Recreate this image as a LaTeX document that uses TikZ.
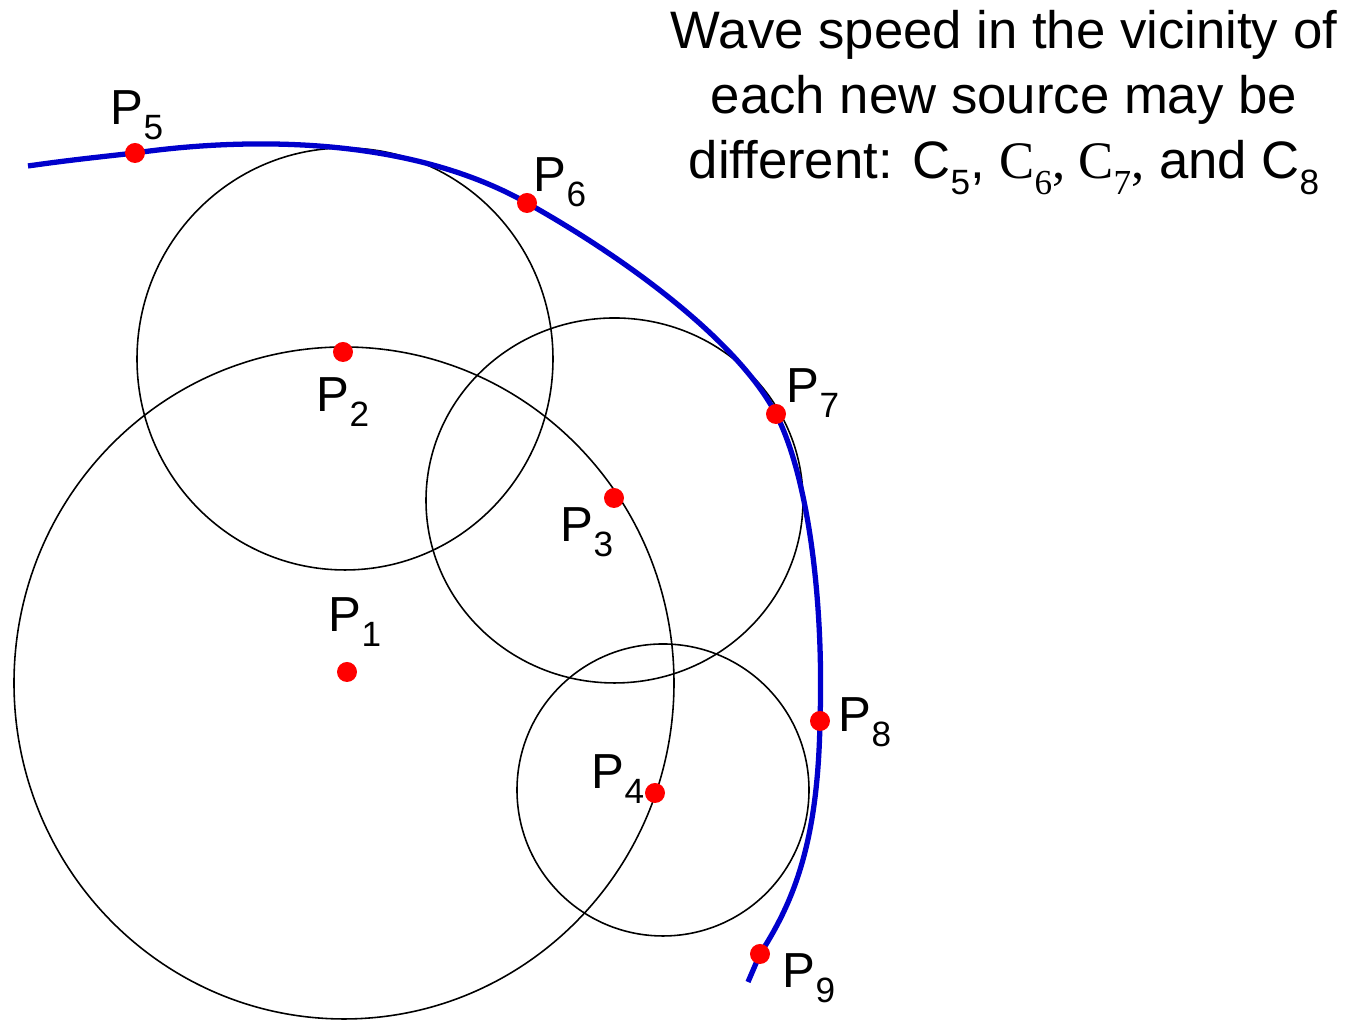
\documentclass[tikz,border=0pt]{standalone}
\usepackage{fontspec}
\setmainfont{Liberation Sans}
\newfontfamily\timesfont{Liberation Serif}
\definecolor{srcred}{RGB}{255,0,0}
\definecolor{frontblue}{RGB}{0,0,204}
\usetikzlibrary{positioning}
\newcommand{\idx}[1]{\raisebox{-0.3em}{\fontsize{10}{12}\selectfont #1}}

\begin{document}
\begin{tikzpicture}[
  src/.style={circle,fill=srcred,inner sep=0pt,minimum size=0.2cm},
  lbl/.style={anchor=base west,inner sep=0pt,font=\fontsize{14}{16}\selectfont},
  wave/.style={draw,line width=0.45pt},
  front/.style={draw=frontblue,line width=1.5pt}
]
  \useasboundingbox (0,0) rectangle (13.64,10.20);

  % source points
  \coordinate (P1) at (3.47,3.48);
  \coordinate (P2) at (3.43,6.68);
  \coordinate (P3) at (6.14,5.22);
  \coordinate (P4) at (6.55,2.27);
  \coordinate (P5) at (1.35,8.67);
  \coordinate (P6) at (5.27,8.17);
  \coordinate (P7) at (7.76,6.06);
  \coordinate (P8) at (8.20,2.99);
  \coordinate (P9) at (7.60,0.66);
  \coordinate (start) at (0.28,8.54);
  \coordinate (end) at (7.48,0.38);

  % wavefronts
  \draw[wave] (3.44,3.37) ellipse [x radius=3.30,y radius=3.36];
  \draw[wave] (3.45,6.61) ellipse [x radius=2.08,y radius=2.11];
  \draw[wave] (6.145,5.195) ellipse [x radius=1.885,y radius=1.825];
  \draw[wave] (6.63,2.30) circle [radius=1.46];

  % envelope
  \draw[front] (start) .. controls (0.70,8.60) and (1.00,8.63) .. (P5)
    .. controls (2.40,8.82) and (4.05,8.86) .. (P6)
    .. controls (6.36,7.56) and (7.40,6.75) .. (P7)
    .. controls (8.08,5.44) and (8.24,4.20) .. (P8)
    .. controls (8.18,1.80) and (7.95,1.20) .. (P9)
    -- (end);

  \node[src] (d1) at (P1) {};
  \node[src] (d2) at (P2) {};
  \node[src] (d3) at (P3) {};
  \node[src] (d4) at (P4) {};
  \node[src] (d5) at (P5) {};
  \node[src] (d6) at (P6) {};
  \node[src] (d7) at (P7) {};
  \node[src] (d8) at (P8) {};
  \node[src] (d9) at (P9) {};

  % labels
  \node[lbl] (l1) at (3.28,3.88) {P\idx{1}};
  \node[lbl] (l2) at (3.16,6.08) {P\idx{2}};
  \node[lbl] (l3) at (5.60,4.78) {P\idx{3}};
  \node[lbl] (l4) at (5.91,2.31) {P\idx{4}};
  \node[lbl] (l5) at (1.10,8.95) {P\idx{5}};
  \node[lbl] (l6) at (5.33,8.28) {P\idx{6}};
  \node[lbl] (l7) at (7.86,6.17) {P\idx{7}};
  \node[lbl] (l8) at (8.38,2.88) {P\idx{8}};
  \node[lbl] (l9) at (7.82,0.32) {P\idx{9}};

  % note
  \node[anchor=north,inner sep=0pt,align=center,font=\fontsize{15}{18.4}\selectfont]
    (note) at (10.04,10.10) {Wave speed in the vicinity of\\
    each new source may be\\
    different: C\idx{5}, {\timesfont C\idx{6}, C\idx{7},} and C\idx{8}};
\end{tikzpicture}
\end{document}
